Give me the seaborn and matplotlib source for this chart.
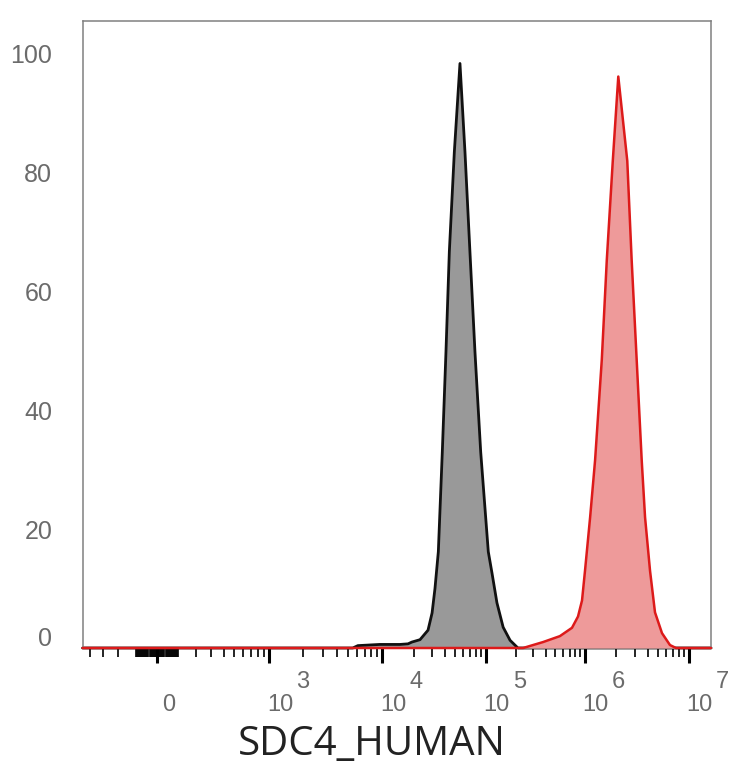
import numpy as np
import matplotlib
matplotlib.use("Agg")
import matplotlib.pyplot as plt
import seaborn as sns
from matplotlib import transforms

# ---------------- data ----------------
ctrl_intensity = [-470, 5.5e3, 6.1e3, 9.5e3, 1.48e4, 1.77e4, 1.93e4, 2.31e4, 2.76e4, 3.02e4,
                  3.22e4, 3.47e4, 3.79e4, 4.11e4, 4.43e4, 4.95e4, 5.61e4, 6.27e4, 7.00e4,
                  7.83e4, 8.89e4, 1.055e5, 1.15e5, 1.29e5, 1.49e5, 1.75e5, 2.10e5, 1.63e7]
ctrl_pct = [0, 0, 0.4, 0.6, 0.6, 0.7, 1.0, 1.4, 3.0, 5.9,
            10, 16.2, 33, 49.8, 66.7, 83.5, 98.4, 83.5, 66.7,
            49.8, 33, 16.2, 12.6, 7.6, 3.5, 1.3, 0, 0]

sdc4_intensity = [-470, 2.37e5, 3.13e5, 3.77e5, 5.58e5, 7.39e5, 8.50e5, 9.33e5, 1.0e6, 1.12e6,
                  1.25e6, 1.45e6, 1.62e6, 1.85e6, 2.09e6, 2.55e6, 2.81e6, 3.14e6, 3.51e6,
                  3.78e6, 4.22e6, 4.71e6, 5.50e6, 6.56e6, 7.50e6, 1.63e7]
sdc4_pct = [0, 0, 0.6, 1.0, 2.0, 3.4, 5.3, 8.0, 13, 22,
            31.6, 48.5, 65.3, 82, 96.2, 82, 65.3, 48.5, 31.6,
            22, 13, 6, 2.5, 0.5, 0, 0]

major_ticks = [0, 1e3, 1e4, 1e5, 1e6, 1e7]
major_bases = ["0", "10", "10", "10", "10", "10"]
major_exps = ["", "3", "4", "5", "6", "7"]
y_ticks = [0, 20, 40, 60, 80, 100]
y_labels = ["0", "20", "40", "60", "80", "100"]
x_label = "SDC4_HUMAN"

# --------------- biexponential-like display scale ---------------
W = 250.0
anchor_vals = np.array([-1e5, -1e4, -1e3, 0, 1e3, 1e4, 1e5, 1e6, 1e7, 1e9])
anchor_pos = np.array([-172.0, -68.3, 44.7, 157.0, 269.3, 382.3, 486.0, 585.0, 689.0, 897.0])
anchor_u = np.arcsinh(anchor_vals / W)


def fwd(v):
    return np.interp(np.arcsinh(np.asarray(v, dtype=float) / W), anchor_u, anchor_pos)


def inv(p):
    return W * np.sinh(np.interp(np.asarray(p, dtype=float), anchor_pos, anchor_u))


sns.set_theme(style="white")
plt.rcParams["font.family"] = ["Liberation Sans", "DejaVu Sans"]

W_PX, H_PX = 734, 768
fig = plt.figure(figsize=(W_PX / 100, H_PX / 100), dpi=100)
L, R, T, B = 82.7, 711.0, 20.7, 648.0
ax = fig.add_axes([L / W_PX, 1 - B / H_PX, (R - L) / W_PX, (B - T) / H_PX])
ax.set_xscale("function", functions=(fwd, inv))
ax.set_xlim(float(inv(L)), float(inv(R)))
ax.set_ylim(0, 105.6)

# histograms
ax.fill_between(ctrl_intensity, ctrl_pct, 0, color="#999999", lw=0, zorder=1)
sns.lineplot(x=ctrl_intensity, y=ctrl_pct, ax=ax, color="#111111", lw=2.0,
             sort=False, estimator=None, zorder=2)
ax.fill_between(sdc4_intensity, sdc4_pct, 0, color="#ee9a9a", lw=0, zorder=3)
sns.lineplot(x=sdc4_intensity, y=sdc4_pct, ax=ax, color="#dd1a1a", lw=1.8,
             sort=False, estimator=None, zorder=4)
for ln in ax.lines:
    ln.set_clip_on(False)
    ln.set_solid_joinstyle("round")

# spines
for s in ax.spines.values():
    s.set_color("#808080")
    s.set_linewidth(1.1)

# x ticks
minor = []
for k in range(1, 21):
    minor += [5 * k, -5 * k]
for k in range(2, 10):
    minor += [100 * k, -100 * k]
for dec in [1e3, 1e4, 1e5, 1e6]:
    minor += [m * dec for m in range(2, 10)]
lo, hi = ax.get_xlim()
minor = [m for m in minor if lo <= m <= hi]
ax.set_xticks(major_ticks)
ax.set_xticks(minor, minor=True)
ax.set_xticklabels([])
ax.tick_params(axis="x", which="major", direction="out", length=10.8, width=2.2,
               color="black", bottom=True)
ax.tick_params(axis="x", which="minor", direction="out", length=6.2, width=1.2,
               color="black", bottom=True)

# custom x tick labels (base + superscript exponent)
bl = transforms.blended_transform_factory(ax.transData, ax.transAxes)
for v, b, e in zip(major_ticks, major_bases, major_exps):
    dx = 11.5 if b == "0" else 10.7
    tr = transforms.offset_copy(bl, fig=fig, x=dx, y=-57, units="dots")
    ax.text(v, 0, b, transform=tr, ha="center", va="center", fontsize=17,
            color="#6b6b6b")
    if e:
        tr2 = transforms.offset_copy(bl, fig=fig, x=33.5, y=-34, units="dots")
        ax.text(v, 0, e, transform=tr2, ha="center", va="center", fontsize=17,
                color="#6b6b6b")

# y ticks
ax.set_yticks(y_ticks)
ax.set_yticklabels(y_labels)
ax.tick_params(axis="y", which="both", length=0, pad=22, labelsize=18,
               labelcolor="#6b6b6b", left=True)
zero_lbl = ax.yaxis.get_major_ticks()[0].label1
zero_lbl.set_transform(zero_lbl.get_transform() +
                       transforms.ScaledTranslation(0, 11 / 100, fig.dpi_scale_trans))

fig.text(372 / W_PX, 1 - 745 / H_PX, x_label, ha="center", va="center",
         fontsize=29, color="#222222", family=["Open Sans", "DejaVu Sans"])

fig.savefig("out.png", dpi=100)
